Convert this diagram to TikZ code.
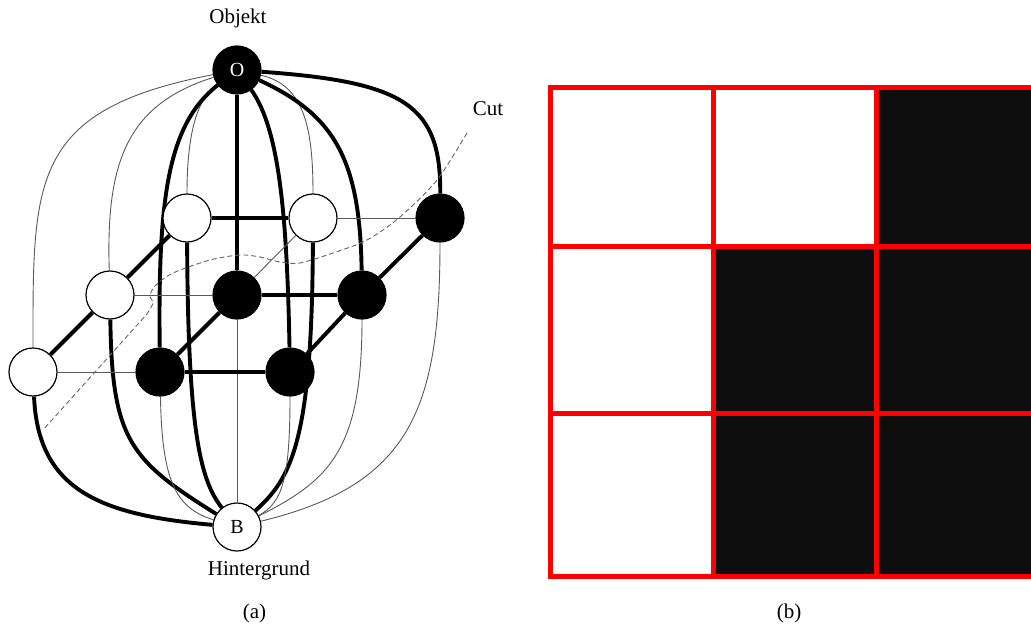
\documentclass[tikz,border=0pt]{standalone}
\usepackage{fontspec}
\setmainfont{Liberation Serif}
\definecolor{cellfill}{RGB}{14,14,14}
\pgfdeclarelayer{edges}
\pgfsetlayers{edges,main}
\begin{document}
\begin{tikzpicture}[x=1pt,y=-1pt,
  vtx/.style={circle,minimum size=48pt,inner sep=0pt,line width=1.2pt,
              font=\fontsize{20}{24}\selectfont},
  obj/.style={vtx,draw=black,fill=black,text=white},
  bkg/.style={vtx,draw=black,fill=white},
  strong/.style={line width=3.9pt,black},
  weak/.style={line width=0.9pt,black!65},
  lbl/.style={font=\fontsize{21}{25}\selectfont,anchor=base,inner sep=0pt},
  cutline/.style={line width=0.9pt,black!60,dash pattern=on 5pt off 3pt},
  cellline/.style={line width=5pt,red,line join=miter},
]
\useasboundingbox (0,0) rectangle (1031,626);

% terminals: object (source) and background (sink)
\node[obj] (O) at (237,70) {O};
\node[bkg] (B) at (237,527) {B};

% 3x3 pixel lattice, back row / middle row / front row
\node[bkg] (A1) at (187,218) {};
\node[bkg] (A2) at (313,218) {};
\node[obj] (A3) at (440,218) {};
\node[bkg] (M1) at (110,295) {};
\node[obj] (M2) at (237,295) {};
\node[obj] (M3) at (362,295) {};
\node[bkg] (F1) at (33,372) {};
\node[obj] (F2) at (160,372) {};
\node[obj] (F3) at (290,372) {};

% labels
\node[lbl] (objlbl) at (238,24) {Objekt};
\node[lbl] (cutlbl) at (488,115) {Cut};
\node[lbl] (hglbl) at (259,575) {Hintergrund};
\node[lbl] (capa) at (254.5,618) {(a)};
\node[lbl] (capb) at (789,618) {(b)};

\begin{pgfonlayer}{edges}
  % links to the object terminal
  \draw[weak]   (O) .. controls (195,100) and (187,140) .. (A1);
  \draw[weak]   (O) .. controls (305,85) and (313,130) .. (A2);
  \draw[strong] (O) .. controls (405,82) and (441,105) .. (A3);
  \draw[weak]   (O) .. controls (125,105) and (106,165) .. (M1);
  \draw[strong] (O) -- (M2);
  \draw[strong] (O) .. controls (335,115) and (360,160) .. (M3);
  \draw[weak]   (O) .. controls (30,110) and (33,180) .. (F1);
  \draw[strong] (O) .. controls (167,125) and (158,200) .. (F2);
  \draw[strong] (O) .. controls (280,130) and (287,220) .. (F3);

  % links to the background terminal
  \draw[weak]   (A3) .. controls (440,410) and (410,485) .. (B);
  \draw[strong] (A2) .. controls (312,440) and (292,478) .. (B);
  \draw[strong] (A1) .. controls (188,430) and (200,480) .. (B);
  \draw[weak]   (M3) .. controls (362,450) and (330,480) .. (B);
  \draw[weak]   (M2) -- (B);
  \draw[strong] (M1) .. controls (112,440) and (130,460) .. (B);
  \draw[weak]   (F3) .. controls (290,480) and (282,503) .. (B);
  \draw[weak]   (F2) .. controls (162,480) and (175,508) .. (B);
  \draw[strong] (F1) .. controls (38,490) and (100,515) .. (B);

  % neighbourhood links inside the lattice
  \draw[strong] (A1) -- (A2);
  \draw[weak]   (A2) -- (A3);
  \draw[weak]   (M1) -- (M2);
  \draw[strong] (M2) -- (M3);
  \draw[weak]   (F1) -- (F2);
  \draw[strong] (F2) -- (F3);
  \draw[strong] (A1) -- (M1);
  \draw[strong] (M1) -- (F1);
  \draw[weak]   (A2) -- (M2);
  \draw[strong] (M2) -- (F2);
  \draw[strong] (A3) -- (M3);
  \draw[strong] (M3) -- (F3);

  % the minimum cut
  \draw[cutline] plot[smooth,tension=0.5] coordinates {
      (467,133) (437,180) (400,217) (367,240) (333,253) (300,263)
      (280,262) (260,257) (240,255) (210,260) (173,273) (155,286)
      (150,296) (153,303) (147,314)} -- (43,430);
\end{pgfonlayer}

% segmentation result as a 3x3 image
\fill[cellfill] (876.5,87.5) rectangle (1031,246);
\fill[cellfill] (713,246) rectangle (1031,576.5);
\draw[cellline] (1031,87.5) -- (550,87.5) -- (550,576.5) -- (1031,576.5);
\draw[cellline] (550,246) -- (1031,246);
\draw[cellline] (550,413.5) -- (1031,413.5);
\draw[cellline] (713,87.5) -- (713,576.5);
\draw[cellline] (876.5,87.5) -- (876.5,576.5);
\end{tikzpicture}
\end{document}
